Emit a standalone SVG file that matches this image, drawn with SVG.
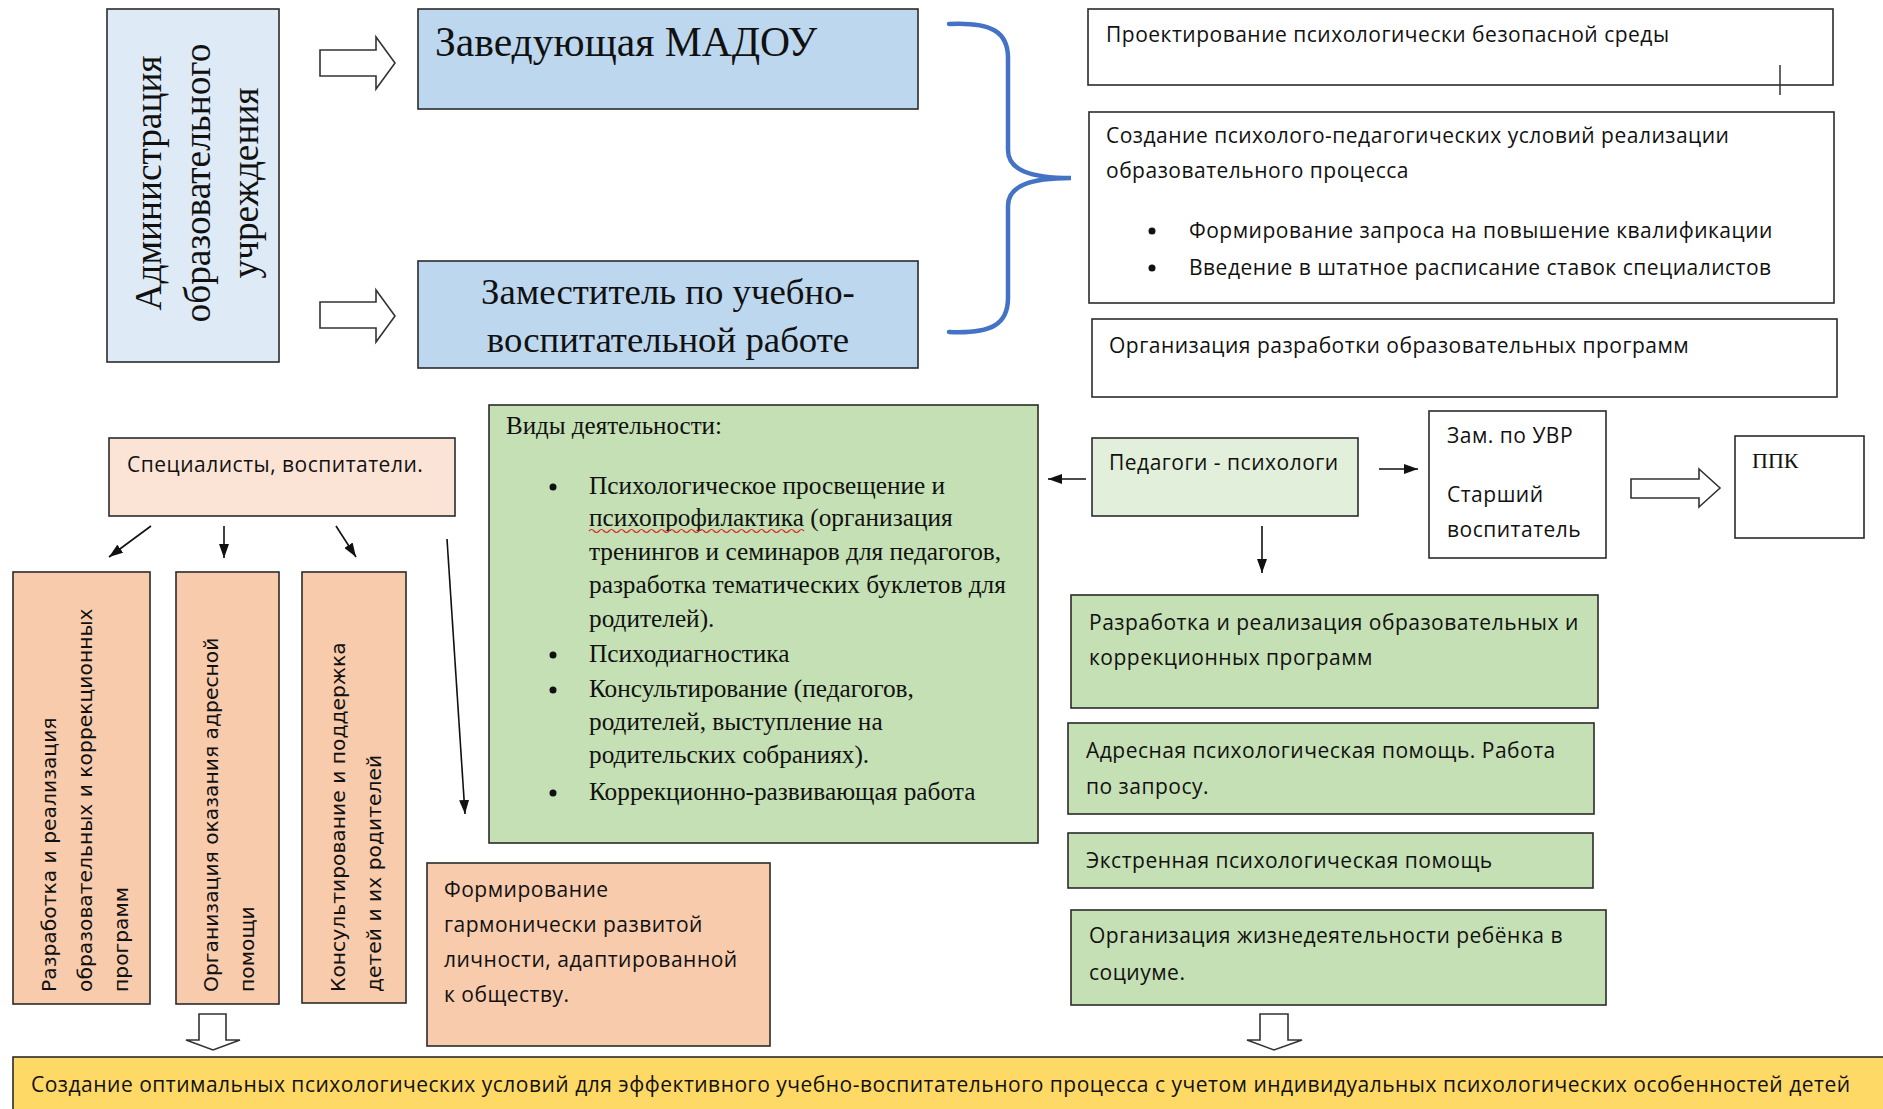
<svg xmlns="http://www.w3.org/2000/svg" width="1883" height="1109" viewBox="0 0 1883 1109">
<style>
.box{stroke:#2b2b2b;stroke-width:1.6}
.serif{font-family:"Liberation Serif","Times New Roman",serif;fill:#111}
.sans{font-family:"Open Sans","Liberation Sans",sans-serif;font-size:21px;letter-spacing:0.5px;fill:#111}
.vsans{font-family:"DejaVu Sans","Liberation Sans",sans-serif;font-size:20.3px;fill:#111}
.conn{stroke:#111;stroke-width:1.6;fill:none}
.hollow{fill:#fff;stroke:#333;stroke-width:1.6;stroke-linejoin:miter}
.dot{fill:#111}
</style>
<defs>
<marker id="ah" viewBox="0 0 14 10" markerWidth="14" markerHeight="10" refX="14" refY="5" orient="auto" markerUnits="userSpaceOnUse">
<path d="M0,0 L14,5 L0,10 z" fill="#111"/>
</marker>
</defs>
<rect width="1883" height="1109" fill="#fff"/>

<g id="admin">
<rect class="box" x="107" y="9" width="172" height="353" fill="#DEEAF6"/>
<text class="serif" font-size="37.3" text-anchor="middle" transform="translate(161,183) rotate(-90)">Администрация</text>
<text class="serif" font-size="37.3" text-anchor="middle" transform="translate(210,183) rotate(-90)">образовательного</text>
<text class="serif" font-size="37.3" text-anchor="middle" transform="translate(258,183) rotate(-90)">учреждения</text>
</g>

<g id="head">
<rect class="box" x="418" y="9" width="500" height="100" fill="#BDD7EE"/>
<text class="serif" font-size="41.6" x="435" y="56">Заведующая МАДОУ</text>
</g>

<g id="deputy">
<rect class="box" x="418" y="261" width="500" height="107" fill="#BDD7EE"/>
<text class="serif" font-size="36.8" text-anchor="middle" x="668" y="304">Заместитель по учебно-</text>
<text class="serif" font-size="36.8" text-anchor="middle" x="668" y="352">воспитательной работе</text>
</g>

<g id="design">
<rect class="box" x="1088" y="9" width="745" height="76" fill="#fff"/>
<text class="sans" x="1106" y="42">Проектирование психологически безопасной среды</text>
<line x1="1780" y1="65" x2="1780" y2="95" stroke="#333" stroke-width="1.5"/>
</g>

<g id="conditions">
<rect class="box" x="1089" y="112" width="745" height="191" fill="#fff"/>
<text class="sans" x="1106" y="143">Создание психолого-педагогических условий реализации</text>
<text class="sans" x="1106" y="178">образовательного процесса</text>
<circle class="dot" cx="1152" cy="231" r="3.5"/>
<text class="sans" x="1189" y="238">Формирование запроса на повышение квалификации</text>
<circle class="dot" cx="1152" cy="268" r="3.5"/>
<text class="sans" x="1189" y="275">Введение в штатное расписание ставок специалистов</text>
</g>

<g id="programs">
<rect class="box" x="1092" y="319" width="745" height="78" fill="#fff"/>
<text class="sans" x="1109" y="353">Организация разработки образовательных программ</text>
</g>

<g id="specialists">
<rect class="box" x="109" y="438" width="346" height="78" fill="#FBE4D5"/>
<text class="sans" x="127" y="472">Специалисты, воспитатели.</text>
</g>

<g id="col1">
<rect class="box" x="13" y="572" width="137" height="432" fill="#F8CBAD"/>
<text class="vsans" transform="translate(56,992) rotate(-90)">Разработка и реализация</text>
<text class="vsans" transform="translate(92,992) rotate(-90)">образовательных и коррекционных</text>
<text class="vsans" transform="translate(128,992) rotate(-90)">программ</text>
</g>

<g id="col2">
<rect class="box" x="176" y="572" width="103" height="432" fill="#F8CBAD"/>
<text class="vsans" transform="translate(218,992) rotate(-90)">Организация оказания адресной</text>
<text class="vsans" transform="translate(254,992) rotate(-90)">помощи</text>
</g>

<g id="col3">
<rect class="box" x="302" y="572" width="104" height="431" fill="#F8CBAD"/>
<text class="vsans" transform="translate(345,992) rotate(-90)">Консультирование и поддержка</text>
<text class="vsans" transform="translate(381,992) rotate(-90)">детей и их родителей</text>
</g>

<g id="activities">
<rect class="box" x="489" y="405" width="549" height="438" fill="#C5E0B4"/>
<text class="serif" font-size="25" x="506" y="434">Виды деятельности:</text>
<circle class="dot" cx="553" cy="487" r="3.5"/>
<text class="serif" font-size="25.3" x="589" y="494">Психологическое просвещение и</text>
<text class="serif" font-size="25.3" x="589" y="526">психопрофилактика (организация</text>
<path d="M589,531 q2.5,-3 5,0 t5,0 t5,0 t5,0 t5,0 t5,0 t5,0 t5,0 t5,0 t5,0 t5,0 t5,0 t5,0 t5,0 t5,0 t5,0 t5,0 t5,0 t5,0 t5,0 t5,0 t5,0 t5,0 t5,0 t5,0 t5,0 t5,0 t5,0 t5,0 t5,0 t5,0 t5,0 t5,0 t5,0 t5,0 t5,0 t5,0 t5,0 t5,0 t5,0 t5,0 t5,0 t5,0" fill="none" stroke="#E02020" stroke-width="1.2"/>
<text class="serif" font-size="25.3" x="589" y="560">тренингов и семинаров для педагогов,</text>
<text class="serif" font-size="25.3" x="589" y="593">разработка тематических буклетов для</text>
<text class="serif" font-size="25.3" x="589" y="627">родителей).</text>
<circle class="dot" cx="553" cy="655" r="3.5"/>
<text class="serif" font-size="25.3" x="589" y="662">Психодиагностика</text>
<circle class="dot" cx="553" cy="690" r="3.5"/>
<text class="serif" font-size="25.3" x="589" y="697">Консультирование (педагогов,</text>
<text class="serif" font-size="25.3" x="589" y="730">родителей, выступление на</text>
<text class="serif" font-size="25.3" x="589" y="763">родительских собраниях).</text>
<circle class="dot" cx="553" cy="793" r="3.5"/>
<text class="serif" font-size="25.3" x="589" y="800">Коррекционно-развивающая работа</text>
</g>

<g id="harmony">
<rect class="box" x="427" y="863" width="343" height="183" fill="#F8CBAD"/>
<text class="sans" x="444" y="897">Формирование</text>
<text class="sans" x="444" y="932">гармонически развитой</text>
<text class="sans" x="444" y="967">личности, адаптированной</text>
<text class="sans" x="444" y="1002">к обществу.</text>
</g>

<g id="psychologists">
<rect class="box" x="1092" y="438" width="266" height="78" fill="#E2EFDA"/>
<text class="sans" x="1109" y="470">Педагоги - психологи</text>
</g>

<g id="uvr">
<rect class="box" x="1429" y="411" width="177" height="147" fill="#fff"/>
<text class="sans" x="1447" y="443">Зам. по УВР</text>
<text class="sans" x="1447" y="502">Старший</text>
<text class="sans" x="1447" y="537">воспитатель</text>
</g>

<g id="ppk">
<rect class="box" x="1735" y="436" width="129" height="102" fill="#fff"/>
<text class="serif" font-size="22" x="1752" y="468">ППК</text>
</g>

<g id="dev">
<rect class="box" x="1071" y="595" width="527" height="113" fill="#C5E0B4"/>
<text class="sans" x="1089" y="630">Разработка и реализация образовательных и</text>
<text class="sans" x="1089" y="665">коррекционных программ</text>
</g>

<g id="address">
<rect class="box" x="1068" y="723" width="526" height="91" fill="#C5E0B4"/>
<text class="sans" x="1086" y="758">Адресная психологическая помощь. Работа</text>
<text class="sans" x="1086" y="794">по запросу.</text>
</g>

<g id="emergency">
<rect class="box" x="1068" y="833" width="525" height="55" fill="#C5E0B4"/>
<text class="sans" x="1086" y="868">Экстренная психологическая помощь</text>
</g>

<g id="life">
<rect class="box" x="1071" y="910" width="535" height="95" fill="#C5E0B4"/>
<text class="sans" x="1089" y="943">Организация жизнедеятельности ребёнка в</text>
<text class="sans" x="1089" y="980">социуме.</text>
</g>

<g id="result">
<rect class="box" x="13" y="1057" width="1880" height="60" fill="#FFD966"/>
<text class="sans" x="31" y="1092">Создание оптимальных психологических условий для эффективного учебно-воспитательного процесса с учетом индивидуальных психологических особенностей детей</text>
</g>

<g id="connectors">
<polygon class="hollow" points="320,50 376,50 376,37 395,63 376,89 376,76 320,76"/>
<polygon class="hollow" points="320,302 376,302 376,290 395,316 376,342 376,328 320,328"/>
<path d="M949,24 C992,22 1008,32 1008,58 L1008,150 C1008,170 1030,178 1071,178 C1030,178 1008,186 1008,206 L1008,298 C1008,324 992,334 949,332" fill="none" stroke="#4472C4" stroke-width="4.5" stroke-linecap="round"/>
<line class="conn" x1="151" y1="526" x2="109" y2="557" marker-end="url(#ah)"/>
<line class="conn" x1="224" y1="526" x2="224" y2="558" marker-end="url(#ah)"/>
<line class="conn" x1="336" y1="526" x2="356" y2="557" marker-end="url(#ah)"/>
<line class="conn" x1="447" y1="539" x2="465" y2="814" marker-end="url(#ah)"/>
<line class="conn" x1="1086" y1="479" x2="1048" y2="479" marker-end="url(#ah)"/>
<line class="conn" x1="1379" y1="469" x2="1418" y2="469" marker-end="url(#ah)"/>
<line class="conn" x1="1262" y1="526" x2="1262" y2="573" marker-end="url(#ah)"/>
<polygon class="hollow" points="1631,479 1699,479 1699,469 1720,488 1699,507 1699,498 1631,498"/>
<polygon class="hollow" points="199,1014 226,1014 226,1040 240,1040 213,1050 186,1040 199,1040"/>
<polygon class="hollow" points="1260,1014 1288,1014 1288,1040 1302,1040 1274,1050 1247,1040 1260,1040"/>
</g>
</svg>
